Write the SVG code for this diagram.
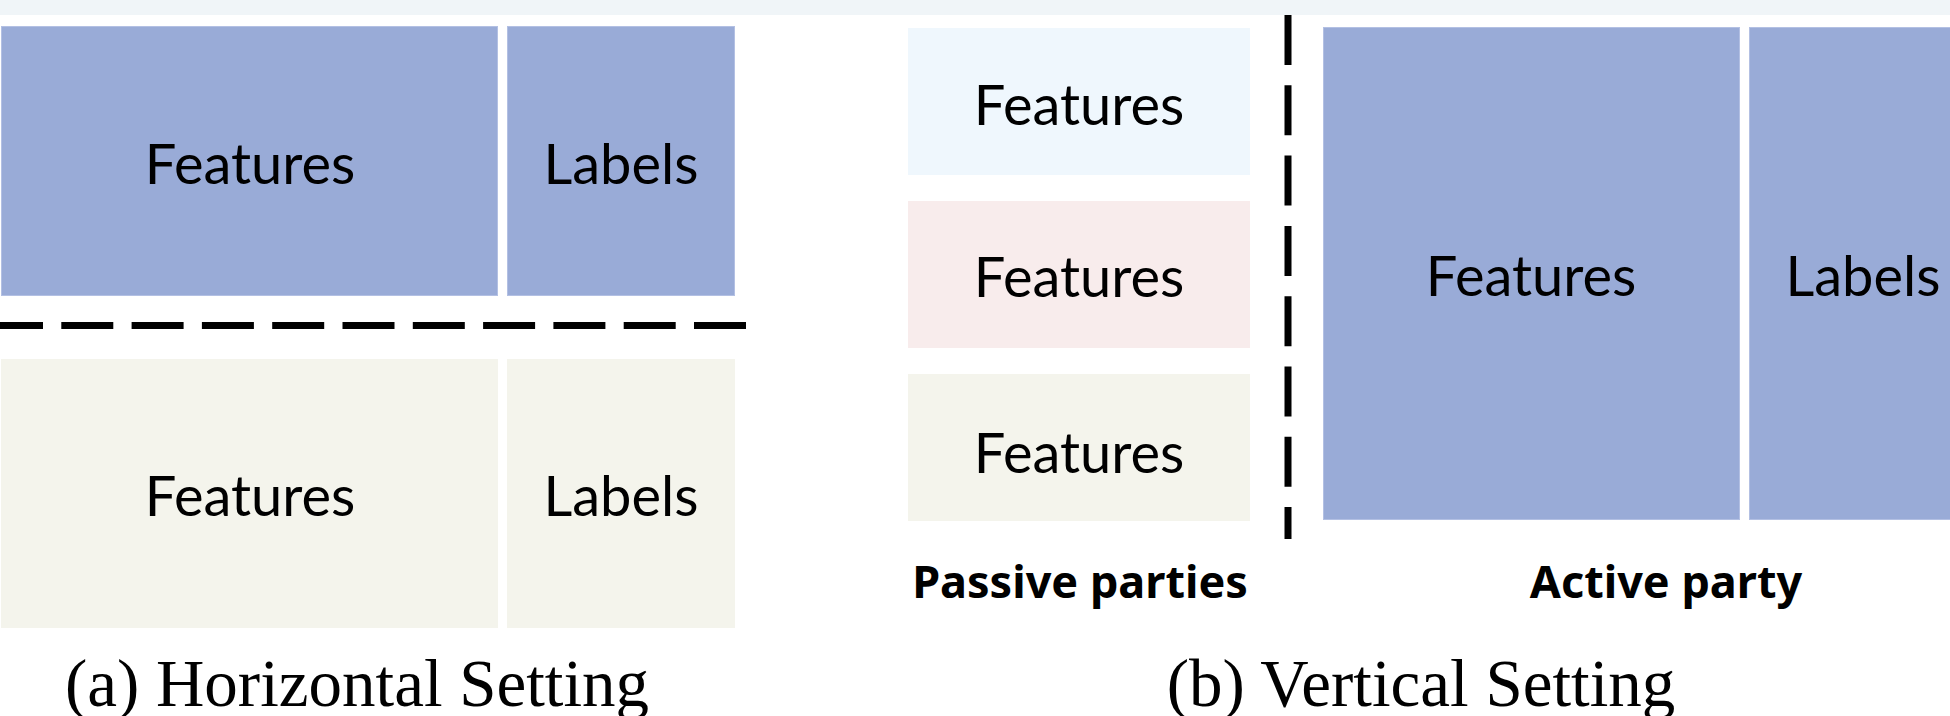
<svg xmlns="http://www.w3.org/2000/svg" width="1950" height="716" viewBox="0 0 1950 716">
<style>
.blue{fill:#99abd7;stroke:#b3c0e3;stroke-width:1}
.beige{fill:#f4f4ec}
.lblue{fill:#eff7fd}
.pink{fill:#f8ecec}
.t{font-family:Lato,"Noto Sans","Liberation Sans",sans-serif;font-weight:400;font-size:56px;fill:#000;text-anchor:middle}
.b{font-family:"Noto Sans","Open Sans","Liberation Sans",sans-serif;font-weight:bold;font-size:45px;fill:#000;text-anchor:middle}
.cap{font-family:"Liberation Serif","Times New Roman",serif;font-size:67px;fill:#000;text-anchor:middle}
.dash{stroke:#000;stroke-width:7;fill:none}
</style>
<rect width="1950" height="716" fill="#fff"/>
<rect x="0" y="0" width="1950" height="15" fill="#f0f5f8"/>
<g id="h-top-features"><rect class="blue" x="1.5" y="26.5" width="496" height="269"/><text class="t" x="250" y="184">Features</text></g>
<g id="h-top-labels"><rect class="blue" x="507.5" y="26.5" width="227" height="269"/><text class="t" x="621" y="184">Labels</text></g>
<g id="h-bot-features"><rect class="beige" x="1" y="359" width="497" height="269"/><text class="t" x="250" y="516">Features</text></g>
<g id="h-bot-labels"><rect class="beige" x="507" y="359" width="228" height="269"/><text class="t" x="621" y="516">Labels</text></g>
<g id="v-passive-1"><rect class="lblue" x="908" y="28" width="342" height="147"/><text class="t" x="1079" y="125">Features</text></g>
<g id="v-passive-2"><rect class="pink" x="908" y="201" width="342" height="147"/><text class="t" x="1079" y="297">Features</text></g>
<g id="v-passive-3"><rect class="beige" x="908" y="374" width="342" height="147"/><text class="t" x="1079" y="473">Features</text></g>
<g id="v-active-features"><rect class="blue" x="1323.5" y="27.5" width="416" height="492"/><text class="t" x="1531" y="296">Features</text></g>
<g id="v-active-labels"><rect class="blue" x="1749.5" y="27.5" width="228" height="492"/><text class="t" x="1863" y="296">Labels</text></g>
<g id="connectors">
<line class="dash" x1="-9" y1="325.5" x2="747" y2="325.5" stroke-dasharray="52 18.3"/>
<line class="dash" x1="1288" y1="15" x2="1288" y2="539" stroke-dasharray="50 20.3"/>
</g>
<text class="b" x="1080" y="598">Passive parties</text>
<text class="b" x="1666" y="598">Active party</text>
<text class="cap" x="357" y="706">(a) Horizontal Setting</text>
<text class="cap" x="1421" y="706">(b) Vertical Setting</text>
</svg>
